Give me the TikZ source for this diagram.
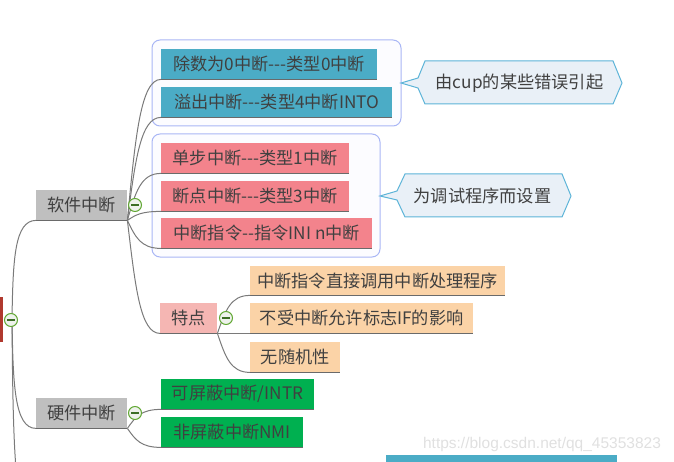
\documentclass[tikz,border=0pt]{standalone}
\usepackage{fontspec}
\newfontfamily\cjkf{Noto Sans CJK SC}
\newfontfamily\wmf{Liberation Sans}
\usetikzlibrary{calc}
\definecolor{txt}{HTML}{404040}
\definecolor{lnc}{HTML}{7A7A7A}
\definecolor{ulc}{HTML}{6A6A6A}
\definecolor{grayfill}{HTML}{BFBFBF}
\definecolor{bluefill}{HTML}{4BACC6}
\definecolor{coralfill}{HTML}{F3838C}
\definecolor{pinkfill}{HTML}{F5B6B3}
\definecolor{peachfill}{HTML}{FBD3A7}
\definecolor{greenfill}{HTML}{00B050}
\definecolor{rootred}{HTML}{B0392E}
\definecolor{grpline}{HTML}{A9B6F5}
\definecolor{grpfill}{HTML}{FCFCFF}
\definecolor{callfill}{HTML}{E9F0F7}
\definecolor{callline}{HTML}{5DB4D8}
\definecolor{knobline}{HTML}{62A834}
\definecolor{knobfill}{HTML}{EEF2EC}
\definecolor{knobminus}{HTML}{3C6E25}
\definecolor{wmc}{HTML}{E0E0E0}
\begin{document}
\begin{tikzpicture}[x=1pt,y=-1pt,
  tbox/.style={anchor=north west, inner sep=0pt, minimum height=30pt,
    text=txt, font=\cjkf\fontsize{17.2}{19}\selectfont},
  uline/.style={draw=ulc, line width=1pt},
  conn/.style={draw=lnc, line width=1pt},
  branch/.style 2 args={to path={let \p1=(\tikztostart), \p2=(\tikztotarget) in
    .. controls ({\x1+#1}, {\y1+0.6*(\y2-\y1)}) and ({\x1+#2*(\x2-\x1)}, \y2) .. (\tikztotarget)}},
  groupbox/.style={draw=grpline, fill=grpfill, line width=1pt, rounded corners=8pt},
  callbox/.style={draw=callline, fill=callfill, line width=1pt},
  calltext/.style={inner sep=0pt, text=txt, font=\cjkf\fontsize{17.2}{19}\selectfont},
  knob/.style={circle, draw=knobline, fill=knobfill, line width=1pt, minimum size=13pt, inner sep=0pt,
    path picture={\draw[knobminus, line width=1.1pt]
      ($(path picture bounding box.center)+(-3.8pt,0)$) -- ($(path picture bounding box.center)+(3.8pt,0)$);}}
]
\useasboundingbox (0,0) rectangle (674,462);
\clip (0,0) rectangle (674,462);

% group frames
\draw[groupbox] (152,40) rectangle (401,126);
\draw[groupbox] (152,134) rectangle (380,257);

% callouts
\draw[callbox] (401,83) -- (418,78) -- (425,61) -- (613,61) -- (622,83) -- (613,104) -- (425,104) -- (418,88) -- cycle;
\node[calltext] (c1) at (519.5,83) {由cup的某些错误引起};
\draw[callbox] (380,196) -- (397,191) -- (405,174) -- (562,174) -- (571,196) -- (562,217) -- (405,217) -- (397,200) -- cycle;
\node[calltext] (c2) at (482.5,196) {为调试程序而设置};

% root
\node[fill=rootred, inner sep=0pt, minimum width=2.5pt, minimum height=45pt, anchor=north west] (root) at (0,297) {};
\coordinate (rootc) at (12,319);
\coordinate (rootdown) at (36,530);

% level 1
\node[tbox, fill=grayfill, minimum width=91pt] (soft) at (36,190) {软件中断};
\node[tbox, fill=grayfill, minimum width=91pt] (hard) at (36,398) {硬件中断};

% software children
\node[tbox, fill=bluefill, minimum width=216pt] (n1) at (161,49) {除数为0中断---类型0中断};
\node[tbox, fill=bluefill, minimum width=231pt] (n2) at (161,87) {溢出中断---类型4中断INTO};
\node[tbox, fill=coralfill, minimum width=188pt] (n3) at (161,143) {单步中断---类型1中断};
\node[tbox, fill=coralfill, minimum width=188pt] (n4) at (161,181) {断点中断---类型3中断};
\node[tbox, fill=coralfill, minimum width=211pt] (n5) at (161,218) {中断指令--指令INI n中断};
\node[tbox, fill=pinkfill, minimum width=57pt] (td) at (160,303) {特点};

% features
\node[tbox, fill=peachfill, minimum width=255pt, minimum height=29pt] (t1) at (250,266) {中断指令直接调用中断处理程序};
\node[tbox, fill=peachfill, minimum width=223pt] (t2) at (250,303) {不受中断允许标志IF的影响};
\node[tbox, fill=peachfill, minimum width=90pt] (t3) at (250,342) {无随机性};

% hardware children
\node[tbox, fill=greenfill, minimum width=153pt] (h1) at (161,379) {可屏蔽中断/INTR};
\node[tbox, fill=greenfill, minimum width=142pt] (h2) at (161,417) {非屏蔽中断NMI};

% cut-off node at the bottom
\node[fill=bluefill, inner sep=0pt, minimum width=231pt, minimum height=20pt, anchor=north west] (bot) at (386,455) {};

% underlines
\foreach \nd in {soft,hard,n1,n2,n3,n4,n5,td,t1,t2,t3,h1,h2}
  \draw[uline] (\nd.south west) -- (\nd.south east);

% connectors
\draw[conn] (rootc) to[branch={1pt}{0.1}] (soft.south west);
\draw[conn] (rootc) to[branch={1pt}{0.1}] (hard.south west);
\draw[conn] (rootc) to[branch={1pt}{0.1}] (rootdown);

\foreach \nd in {n1,n2,n3,n4,n5,td}
  \draw[conn] (soft.south east) to[branch={8pt}{0.4}] (\nd.south west);
\foreach \nd in {t1,t2,t3}
  \draw[conn] (td.south east) to[branch={8pt}{0.4}] (\nd.south west);
\foreach \nd in {h1,h2}
  \draw[conn] (hard.south east) to[branch={8pt}{0.4}] (\nd.south west);

% knobs
\node[knob] (k0) at (11,320) {};
\node[knob] (k1) at (135,205) {};
\node[knob] (k2) at (226,318) {};
\node[knob] (k3) at (135,413) {};

% watermark
\node[text=wmc, font=\wmf\fontsize{15.5}{17}\selectfont, inner sep=0pt] (wm) at (542,444) {https://blog.csdn.net/qq\_45353823};
\end{tikzpicture}
\end{document}
